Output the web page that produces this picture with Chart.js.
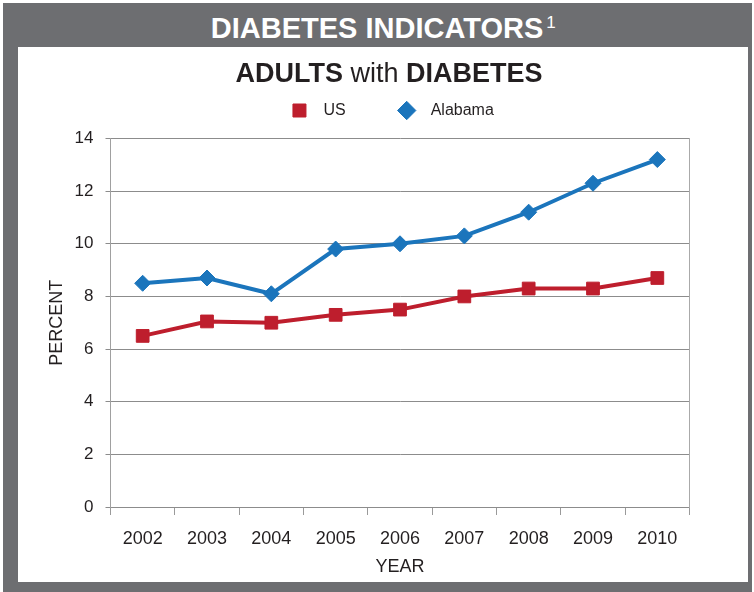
<!DOCTYPE html>
<html>
<head>
<meta charset="utf-8">
<script src="https://cdn.jsdelivr.net/npm/chart.js@4"></script>
<style>
  body { margin: 0; background: #fff; font-family: "Liberation Sans", Arial, Helvetica, sans-serif; }
  #frame { position: absolute; left: 3px; top: 3px; width: 749px; height: 589px; background: #6d6e71; }
  #mainTitle { position: absolute; left: 0; top: 14px; width: 754px; text-align: center;
    font-size: 29px; line-height: 29px; font-weight: bold; color: #fff; }
  #mainTitle .t { position: relative; }
  #mainTitle .sup { position: absolute; left: 100%; margin-left: 3px; top: 2px;
    font-size: 17px; line-height: 17px; font-weight: normal; }
  #panel { position: absolute; left: 18px; top: 47px; width: 730px; height: 535px; background: #fff; }
  #chartTitle { position: absolute; left: 0; top: 60px; width: 778px; text-align: center;
    font-size: 27px; line-height: 27px; color: #231f20; }
  #chartTitle b { font-weight: bold; }
</style>
</head>
<body>
<div id="frame"></div>
<div id="mainTitle"><span class="t">DIABETES INDICATORS<span class="sup">1</span></span></div>
<div id="panel"><canvas id="diabetesChart" width="730" height="535"></canvas></div>
<div id="chartTitle"><b>ADULTS</b> with <b>DIABETES</b></div>
<script>
// Dados
const years = ['2002', '2003', '2004', '2005', '2006', '2007', '2008', '2009', '2010'];
const usValues = [6.5, 7.05, 7.0, 7.3, 7.5, 8.0, 8.3, 8.3, 8.7];
const alabamaValues = [8.5, 8.7, 8.1, 9.8, 10.0, 10.3, 11.2, 12.3, 13.2];
const yTicks = [0, 2, 4, 6, 8, 10, 12, 14];

const textColor = '#231f20';
const fontFamily = '"Liberation Sans", Arial, Helvetica, sans-serif';

// espaços extras para aproximar o espaçamento da legenda original
const legendSpacing = { 'US': '\u2002US\u2003\u2003', 'Alabama': '\u2002Alabama' };

const ctx = document.getElementById('diabetesChart').getContext('2d');
new Chart(ctx, {
    type: 'line',
    data: {
        labels: years,
        datasets: [{
            label: 'US',
            data: usValues,
            borderColor: '#be1e2d',
            backgroundColor: '#be1e2d',
            borderWidth: 4,
            pointStyle: 'rect',
            pointRadius: 9,
            pointBorderWidth: 1,
            pointBackgroundColor: '#be1e2d',
            pointBorderColor: '#be1e2d',
            tension: 0
        }, {
            label: 'Alabama',
            data: alabamaValues,
            borderColor: '#1b75bc',
            backgroundColor: '#1b75bc',
            borderWidth: 4,
            pointStyle: 'rectRot',
            pointRadius: 8,
            pointBorderWidth: 1,
            pointBackgroundColor: '#1b75bc',
            pointBorderColor: '#1b75bc',
            tension: 0
        }]
    },
    options: {
        responsive: false,
        animation: false,
        devicePixelRatio: 1,
        layout: { padding: { top: 34.5, right: 0, bottom: 0, left: 19.3 } },
        plugins: {
            tooltip: { enabled: false },
            legend: {
                display: true,
                position: 'top',
                labels: {
                    usePointStyle: true,
                    boxWidth: 16,
                    boxHeight: 13,
                    padding: 21,
                    color: textColor,
                    font: { family: fontFamily, size: 16 },
                    generateLabels: function (chart) {
                        const items = Chart.defaults.plugins.legend.labels.generateLabels(chart);
                        items.forEach(function (item) {
                            item.text = legendSpacing[item.text] || item.text;
                        });
                        return items;
                    }
                }
            },
            // espaço vazio entre a legenda e a área do gráfico
            subtitle: {
                display: true,
                text: '',
                position: 'top',
                weight: 500,
                font: { size: 1 },
                padding: { top: 0, bottom: 8.8 }
            }
        },
        scales: {
            x: {
                offset: true,
                grid: {
                    display: true,
                    offset: true,
                    drawOnChartArea: false,
                    drawTicks: true,
                    tickLength: 8,
                    color: '#9a9a9a'
                },
                border: { display: true, color: '#8c8c8c', width: 1 },
                ticks: { color: textColor, padding: 13, font: { family: fontFamily, size: 18 } },
                title: {
                    display: true,
                    text: 'YEAR',
                    color: textColor,
                    padding: { top: 0, bottom: 4.2 },
                    font: { family: fontFamily, size: 18 }
                },
                afterFit: function (scale) { scale.height = 75; }
            },
            y: {
                min: 0,
                max: 14,
                afterBuildTicks: function (scale) {
                    scale.ticks = yTicks.map(function (v) { return { value: v }; });
                },
                grid: { color: '#8c8c8c', lineWidth: 1, tickLength: 5 },
                border: { display: true, color: '#a0a0a0', width: 1 },
                ticks: { color: textColor, padding: 12, font: { family: fontFamily, size: 17 } },
                title: {
                    display: true,
                    text: 'PERCENT',
                    color: textColor,
                    padding: { top: 8.9, bottom: 0 },
                    font: { family: fontFamily, size: 18 }
                },
                afterFit: function (scale) { scale.width = 73.2; }
            },
            yRight: {
                position: 'right',
                min: 0,
                max: 14,
                grid: { drawOnChartArea: false, drawTicks: false },
                border: { display: true, color: '#aaaaaa', width: 1 },
                ticks: { display: false },
                afterFit: function (scale) { scale.width = 58.5; }
            }
        }
    }
});
</script>
</body>
</html>
